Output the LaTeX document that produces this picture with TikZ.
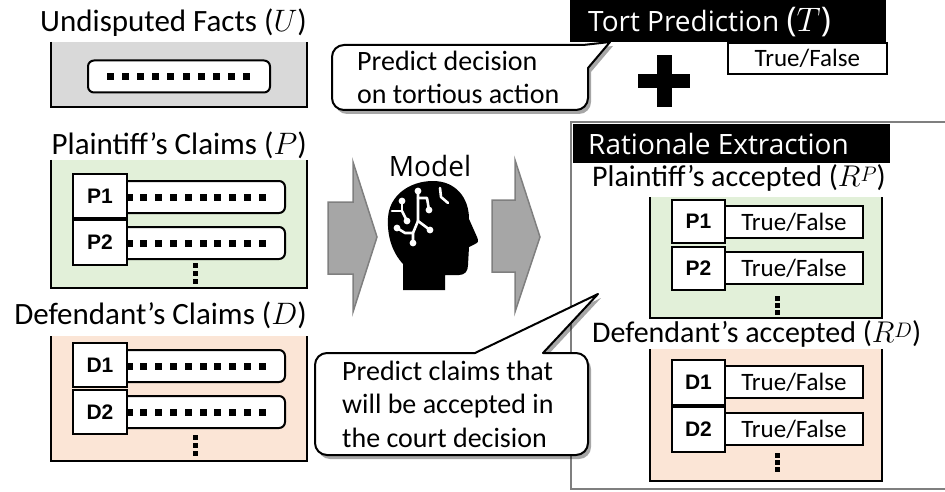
\documentclass[tikz,border=0pt]{standalone}
\usepackage{fix-cm}
\usepackage{fontspec}
\setmainfont{Carlito}
\newfontfamily\osans{Open Sans}
\newfontfamily\lsans{Liberation Sans}
\usetikzlibrary{shadows}
\definecolor{ufill}{HTML}{D9D9D9}
\definecolor{pfill}{HTML}{E2F0D9}
\definecolor{dfill}{HTML}{FBE5D6}
\definecolor{afill}{HTML}{A6A6A6}
\definecolor{aline}{HTML}{7F7F7F}
\newcommand\supsc[1]{\raisebox{5pt}{\fontsize{21}{21}\selectfont$#1$}}
\begin{document}
\begin{tikzpicture}[x=1pt,y=-1pt,
  lab/.style={font=\fontsize{31}{36}\selectfont, inner sep=0pt},
  rlab/.style={font=\fontsize{30}{35}\selectfont, inner sep=0pt, anchor=base west},
  frame/.style={line width=2.4pt},
  bar/.style={draw, line width=2pt, fill=white, rounded corners=6pt, inner sep=0pt, minimum width=175pt, minimum height=32pt},
  idbox/.style={draw, line width=1.8pt, fill=white, inner sep=0pt, minimum width=54pt, minimum height=44pt, font=\lsans\bfseries\fontsize{21}{24}\selectfont},
  tfbox/.style={draw, line width=1.8pt, fill=white, inner sep=0pt, minimum width=138pt, minimum height=32pt, font=\fontsize{25}{28}\selectfont},
  banner/.style={fill=black, inner sep=0pt, anchor=north west},
  bantext/.style={text=white, font=\osans\fontsize{28}{32}\selectfont, inner sep=0pt, anchor=base west},
  blockarrow/.style={fill=afill, draw=aline, line width=1.5pt, line join=miter},
  callout/.style={draw, fill=white, line width=2pt, line join=round, drop shadow={shadow xshift=3pt, shadow yshift=-4pt, opacity=0.35, fill=black}},
  ctext/.style={font=\fontsize{28}{32}\selectfont, inner sep=0pt, anchor=base west},
  circuit/.style={white, line width=2.6pt, line cap=round, line join=round}
]
\useasboundingbox (0,0) rectangle (945,492);

% ---------- Left: Undisputed facts ----------
\fill[ufill] (51,42) rectangle (307,107);
\draw[frame] (51,42) -- (51,107) -- (307,107) -- (307,42);
\node[lab, anchor=base east] (ulab) at (307,32) {Undisputed Facts ($U$)};
\node[bar, minimum width=182pt] (ubar) at (179,76.5) {};
\foreach \i in {0,...,9} \fill (107+15.1*\i,73) rectangle ++(7,7);

% ---------- Left: Plaintiff's claims ----------
\fill[pfill] (51,160) rectangle (307,288);
\draw[frame] (51,160) -- (51,288) -- (307,288) -- (307,160);
\node[lab, anchor=base east] (plab) at (307,154) {Plaintiff’s Claims ($P$)};
\node[bar] (p1bar) at (197.5,197) {};
\node[bar] (p2bar) at (197.5,243) {};
\foreach \i in {0,...,9} {
  \fill (125.5+14.8*\i,193.5) rectangle ++(7,7);
  \fill (125.5+14.8*\i,239.5) rectangle ++(7,7);
}
\node[idbox] (p1) at (100,196) {P1};
\node[idbox, minimum height=45pt] (p2) at (100,242.5) {P2};
\foreach \j in {0,1,2} \fill (193,263+8*\j) rectangle ++(4.5,4.5);

% ---------- Left: Defendant's claims ----------
\fill[dfill] (51,336) rectangle (307,461);
\draw[frame] (51,336) -- (51,461) -- (307,461) -- (307,336);
\node[lab, anchor=base east] (dlab) at (307,324) {Defendant’s Claims ($D$)};
\node[bar] (d1bar) at (197.5,366) {};
\node[bar] (d2bar) at (197.5,412) {};
\foreach \i in {0,...,9} {
  \fill (125.5+14.8*\i,362.5) rectangle ++(7,7);
  \fill (125.5+14.8*\i,408.5) rectangle ++(7,7);
}
\node[idbox] (d1) at (100,365) {D1};
\node[idbox] (d2) at (100,412) {D2};
\foreach \j in {0,1,2} \fill (193,435+8*\j) rectangle ++(4.5,4.5);

% ---------- Middle: block arrows and model ----------
\filldraw[blockarrow] (328,202) -- (353,202) -- (353,162) -- (377,237) -- (353,312) -- (353,274) -- (328,274) -- cycle;
\filldraw[blockarrow] (492,200) -- (515,200) -- (515,160) -- (540,237) -- (515,312) -- (515,272) -- (492,272) -- cycle;
\node[font=\osans\fontsize{28}{32}\selectfont, anchor=base, inner sep=0pt] (model) at (430,176) {Model};

% head silhouette
\fill (403,290) -- (403,264) .. controls (392,252) and (387,236) .. (388,218)
  .. controls (389,196) and (409,181) .. (433,181)
  .. controls (455,181) and (469,197) .. (469,219)
  -- (477,237) .. controls (479,241) and (478,243) .. (475,244)
  -- (469,247) -- (468,265) .. controls (468,271) and (465,275) .. (459,275)
  -- (445,275) -- (445,290) -- cycle;
% circuits
\draw[circuit] (418,191) -- (418,221) -- (430,230);
\draw[circuit] (418,221) -- (413,233) -- (413,243);
\draw[circuit] (413,233) -- (405,233) -- (397,228);
\draw[circuit] (418,198) -- (427,198) -- (429,210);
\draw[circuit] (402,201) -- (402,211) -- (392,211);
\draw[circuit] (402,211) -- (407,221);
\draw[circuit] (440,188) -- (441,197) -- (448,203);
\foreach \p in {(418,191),(430,230),(413,243),(397,228),(429,210),(402,201),(407,221)}
  \fill[white] \p circle (3.4);

% ---------- Right: Tort prediction ----------
\node[banner, minimum width=316pt, minimum height=42pt] (tortban) at (570,0) {};
\node[bantext] (tort) at (588,32) {Tort Prediction {\fontsize{34}{34}\selectfont($T$)}};
\node[tfbox, minimum width=159pt, minimum height=31pt, anchor=north west] (ttf) at (727,42) {True/False};
\fill (657,55) rectangle (672,107);
\fill (638,74) rectangle (690,88);

% ---------- Right: Rationale extraction ----------
\draw[aline, line width=2pt] (950,122) -- (571,122) -- (571,489) -- (950,489);
\node[banner, minimum width=317pt, minimum height=39pt] (ratban) at (573,124) {};
\node[bantext] (rat) at (588,155) {Rationale Extraction};

\fill[pfill] (650,197) rectangle (882,318);
\draw[frame] (650,197) -- (650,318) -- (882,318) -- (882,197);
\node[rlab] (rplab) at (592,186) {Plaintiff’s accepted ($R$\supsc{P})};
\node[tfbox] (rp1tf) at (794,222) {True/False};
\node[tfbox] (rp2tf) at (794,268) {True/False};
\node[idbox, minimum width=53pt, minimum height=43pt] (rp1) at (698.5,221.5) {P1};
\node[idbox, minimum width=53pt, minimum height=43pt] (rp2) at (698.5,268.5) {P2};
\foreach \j in {0,1,2} \fill (775,296+7*\j) rectangle ++(5,5);

\fill[dfill] (650,349) rectangle (882,481);
\draw[frame] (650,349) -- (650,481) -- (882,481) -- (882,349);
\node[rlab] (rdlab) at (592,342) {Defendant’s accepted ($R$\supsc{D})};
\node[tfbox] (rd1tf) at (794,382) {True/False};
\node[tfbox] (rd2tf) at (794,429) {True/False};
\node[idbox, minimum width=53pt, minimum height=45pt] (rd1) at (698.5,382.5) {D1};
\node[idbox, minimum width=53pt, minimum height=45pt] (rd2) at (698.5,429.5) {D2};
\foreach \j in {0,1,2} \fill (775,453+7*\j) rectangle ++(5,5);

% ---------- Callouts ----------
\draw[callout, rounded corners=12pt] (460,45) [sharp corners] -- (583,45) -- (610,42) -- (588,68) [rounded corners=12pt] -- (588,110) -- (332,110) -- (332,45) -- cycle;
\node[ctext] (c1a) at (357,71) {Predict decision};
\node[ctext] (c1b) at (357,104) {on tortious action};

\draw[callout, rounded corners=12pt] (400,353) [sharp corners] -- (475,353) -- (598,294) -- (543,353) [rounded corners=12pt] -- (588,353) -- (588,455) -- (315,455) -- (315,353) -- cycle;
\node[ctext] (c2a) at (342,380) {Predict claims that};
\node[ctext] (c2b) at (342,413) {will be accepted in};
\node[ctext] (c2c) at (342,447) {the court decision};
\end{tikzpicture}
\end{document}
